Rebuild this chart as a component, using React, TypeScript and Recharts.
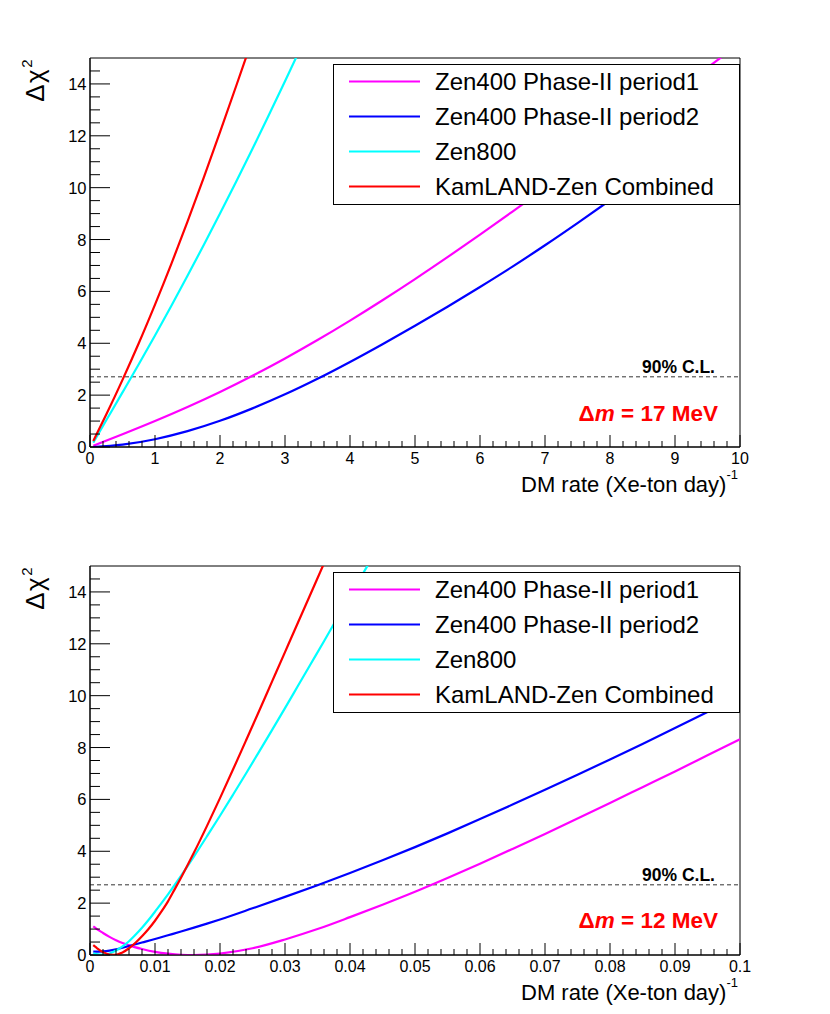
import React from "react"
import { LineChart, Line, XAxis, YAxis, ReferenceLine, ReferenceArea, Legend } from "recharts"

const FONT = '"Liberation Sans", Arial, Helvetica, sans-serif'

const seriesNames = ["Zen400 Phase-II period1", "Zen400 Phase-II period2", "Zen800", "KamLAND-Zen Combined"]
const seriesColors = ["#ff00ff", "#0000ff", "#00ffff", "#ff0000"]

const CL90 = 2.706

// upper panel, dm = 17 MeV
const topSlowX = [0.05, 0.5, 1, 1.5, 2, 2.5, 3, 3.5, 4, 4.5, 5, 5.5, 6, 6.5, 7, 7.5, 8, 8.5, 9, 9.5, 10]
const topPeriod1 = [0.05, 0.49, 1.0, 1.54, 2.12, 2.745, 3.415, 4.125, 4.875, 5.66, 6.475, 7.32, 8.19, 9.08, 9.985, 10.9, 11.825, 12.755, 13.69, 14.63, 15.57]
const topPeriod2 = [0.0, 0.09, 0.3, 0.61, 1.01, 1.49, 2.03, 2.63, 3.28, 3.965, 4.675, 5.41, 6.17, 6.955, 7.78, 8.635, 9.515, 10.415, 11.33, 12.255, 13.18]
const topFastX = [0.05, 0.25, 0.5, 0.75, 1, 1.25, 1.5, 1.75, 2, 2.25, 2.5, 2.75, 3, 3.25]
const topZen800 = [0.17, 1.03, 2.105, 3.19, 4.3, 5.44, 6.6, 7.79, 9.0, 10.24, 11.5, 12.79, 14.1, 15.44]
const topCombined = [0.23, 1.25, 2.59, 4.0, 5.49, 7.05, 8.69, 10.39, 12.14, 13.93, 15.74]

// lower panel, dm = 12 MeV
const bottomSlowX = [0.0005, 0.001, 0.002, 0.003, 0.004, 0.005, 0.006, 0.008, 0.01, 0.012, 0.014, 0.016, 0.018, 0.02, 0.025, 0.03, 0.035, 0.04, 0.045, 0.05, 0.055, 0.06, 0.065, 0.07, 0.075, 0.08, 0.085, 0.09, 0.095, 0.1]
const bottomPeriod1 = [1.1, 1.01, 0.85, 0.7, 0.57, 0.46, 0.37, 0.23, 0.12, 0.05, 0.01, 0.0, 0.015, 0.055, 0.26, 0.6, 1.0, 1.46, 1.94, 2.44, 2.97, 3.52, 4.09, 4.67, 5.26, 5.86, 6.47, 7.08, 7.7, 8.32]
const bottomPeriod2 = [0.13, 0.13, 0.14, 0.17, 0.22, 0.28, 0.345, 0.48, 0.615, 0.76, 0.905, 1.055, 1.21, 1.37, 1.8, 2.24, 2.69, 3.16, 3.65, 4.16, 4.69, 5.24, 5.8, 6.37, 6.95, 7.54, 8.14, 8.75, 9.37, 10.0]
const bottomFastX = [0.0005, 0.001, 0.002, 0.003, 0.004, 0.005, 0.006, 0.007, 0.008, 0.009, 0.01, 0.011, 0.012, 0.013, 0.014, 0.016, 0.018, 0.02, 0.022, 0.024, 0.026, 0.028, 0.03, 0.032, 0.034, 0.036, 0.038, 0.04, 0.042, 0.044]
const bottomZen800 = [0.07, 0.04, 0.02, 0.06, 0.17, 0.33, 0.53, 0.78, 1.05, 1.35, 1.67, 2.0, 2.34, 2.69, 3.05, 3.8, 4.58, 5.37, 6.18, 7.0, 7.83, 8.67, 9.52, 10.38, 11.24, 12.1, 12.97, 13.84, 14.71, 15.58]
const bottomCombined = [0.38, 0.28, 0.11, 0.02, 0.01, 0.1, 0.26, 0.47, 0.72, 1.0, 1.32, 1.68, 2.07, 2.52, 2.98, 3.95, 4.98, 6.05, 7.15, 8.27, 9.4, 10.54, 11.68, 12.82, 13.96, 15.1, 16.24]

const yMajor = [0, 2, 4, 6, 8, 10, 12, 14]
const topXMajor = [0, 1, 2, 3, 4, 5, 6, 7, 8, 9, 10]
const bottomXMajor = [0, 0.01, 0.02, 0.03, 0.04, 0.05, 0.06, 0.07, 0.08, 0.09, 0.1]

function pts(xs: number[], ys: number[]) {
  return ys.map((y, i) => ({ x: xs[i], y }))
}

// add minor ticks between majors (and up to max)
function withMinor(major: number[], n: number, max: number) {
  const step = major[1] - major[0]
  const out: number[] = []
  for (let i = 0; i < major.length; i++) {
    for (let k = 0; k < n; k++) {
      const v = major[i] + (k * step) / n
      if (v < max - 1e-9) out.push(+v.toFixed(6))
    }
  }
  return out
}

function isMajor(v: number, step: number) {
  return Math.abs(v / step - Math.round(v / step)) < 1e-6
}

function YTick({ x, y, payload }: any) {
  const v = payload.value
  const major = isMajor(v, 2)
  return (
    <g>
      <line x1={x} x2={x + (major ? 20 : 10)} y1={y} y2={y} stroke="#000" />
      {major && (
        <text x={x - 3.5} y={y + 6} textAnchor="end" fontSize={16.5} fontFamily={FONT} fill="#000">
          {v}
        </text>
      )}
    </g>
  )
}

const makeXTick = (step: number) => ({ x, y, payload }: any) => {
  const v = payload.value
  const major = isMajor(v, step)
  return (
    <g>
      <line x1={x} x2={x} y1={y} y2={y - (major ? 12 : 6)} stroke="#000" />
      {major && (
        <text x={x} y={y + 16.5} textAnchor="middle" fontSize={16} fontFamily={FONT} fill="#000">
          {String(Number(v.toFixed(2)))}
        </text>
      )}
    </g>
  )
}

function LegendBox() {
  return (
    <svg width={408} height={141} style={{ display: "block" }}>
      <rect x={0.5} y={0.5} width={406} height={140} fill="#fff" stroke="#000" />
      {seriesNames.map((name, i) => {
        const cy = 17.5 + i * 35
        return (
          <g key={name}>
            <line x1={16} x2={87} y1={cy} y2={cy} stroke={seriesColors[i]} strokeWidth={2.2} />
            <text x={102} y={cy + 8.5} fontSize={24} fontFamily={FONT} fill="#000">
              {name}
            </text>
          </g>
        )
      })}
    </svg>
  )
}

function CLLabel(props: any) {
  const vb = props.viewBox
  return (
    <text x={vb.x + vb.width - 25} y={vb.y - 3.5} textAnchor="end" fontSize={17.5} fontWeight="bold" fontFamily={FONT} fill="#000">
      90% C.L.
    </text>
  )
}

type PanelProps = {
  xMax: number
  xMajor: number[]
  xStep: number
  top: number
  series: { x: number[]; y: number[] }[]
  dm: string
}

function Panel({ xMax, xMajor, xStep, top, series, dm }: PanelProps) {
  const height = 507
  const xAxisH = height - top - 389
  const plotBottom = height - xAxisH
  return (
    <div style={{ position: "relative", width: 830, height }}>
      <LineChart width={830} height={height} margin={{ top, right: 90, bottom: 0, left: 30 }}>
        <XAxis
          type="number"
          dataKey="x"
          domain={[0, xMax]}
          allowDataOverflow
          ticks={withMinor(xMajor, 5, xMax + xStep / 10)}
          interval={0}
          tick={makeXTick(xStep)}
          tickLine={false}
          tickSize={0}
          tickMargin={0}
          height={xAxisH}
          stroke="#000"
        />
        <YAxis
          type="number"
          domain={[0, 15]}
          allowDataOverflow
          ticks={withMinor(yMajor, 4, 15)}
          interval={0}
          tick={<YTick />}
          tickLine={false}
          tickSize={0}
          tickMargin={0}
          width={60}
          stroke="#000"
        />
        <ReferenceLine y={CL90} stroke="#333" strokeDasharray="4 3" strokeWidth={1} label={<CLLabel />} />
        {series.map((s, i) => (
          <Line
            key={seriesNames[i]}
            name={seriesNames[i]}
            data={pts(s.x, s.y)}
            dataKey="y"
            type="monotone"
            stroke={seriesColors[i]}
            strokeWidth={2.2}
            dot={false}
            activeDot={false}
            isAnimationActive={false}
          />
        ))}
        <ReferenceArea x1={0} x2={xMax} y1={0} y2={15} fill="none" stroke="#000" strokeWidth={1} ifOverflow="visible" />
        <Legend
          verticalAlign="middle"
          align="center"
          content={<LegendBox />}
          wrapperStyle={{ left: 333, top: top + 5.5, width: 408, height: 141 }}
        />
      </LineChart>
      <svg width={830} height={height} style={{ position: "absolute", left: 0, top: 0, pointerEvents: "none" }}>
        <text x={738} y={plotBottom + 45} textAnchor="end" fontSize={22} fontFamily={FONT} fill="#000">
          DM rate (Xe-ton day)
          <tspan dy={-13} fontSize={13}>-1</tspan>
        </text>
        <text transform={`translate(44, ${top}) rotate(-90)`} textAnchor="end" fontSize={26} fontFamily={FONT} fill="#000" letterSpacing={1.5}>
          Δχ
          <tspan dy={-12} fontSize={15}>2</tspan>
        </text>
        <text x={718} y={421} textAnchor="end" fontSize={22.5} fontWeight="bold" fontFamily={FONT} fill="#ff0000">
          Δ<tspan fontStyle="italic">m</tspan> = {dm} MeV
        </text>
      </svg>
    </div>
  )
}

export default function App() {
  const topSeries = [
    { x: topSlowX, y: topPeriod1 },
    { x: topSlowX, y: topPeriod2 },
    { x: topFastX, y: topZen800 },
    { x: topFastX, y: topCombined },
  ]
  const bottomSeries = [
    { x: bottomSlowX, y: bottomPeriod1 },
    { x: bottomSlowX, y: bottomPeriod2 },
    { x: bottomFastX, y: bottomZen800 },
    { x: bottomFastX, y: bottomCombined },
  ]
  return (
    <div style={{ position: "absolute", left: 0, top: 0, width: 830, height: 1014, background: "#fff" }}>
      <Panel xMax={10} xMajor={topXMajor} xStep={1} top={58} series={topSeries} dm="17" />
      <Panel xMax={0.1} xMajor={bottomXMajor} xStep={0.01} top={59} series={bottomSeries} dm="12" />
    </div>
  )
}
